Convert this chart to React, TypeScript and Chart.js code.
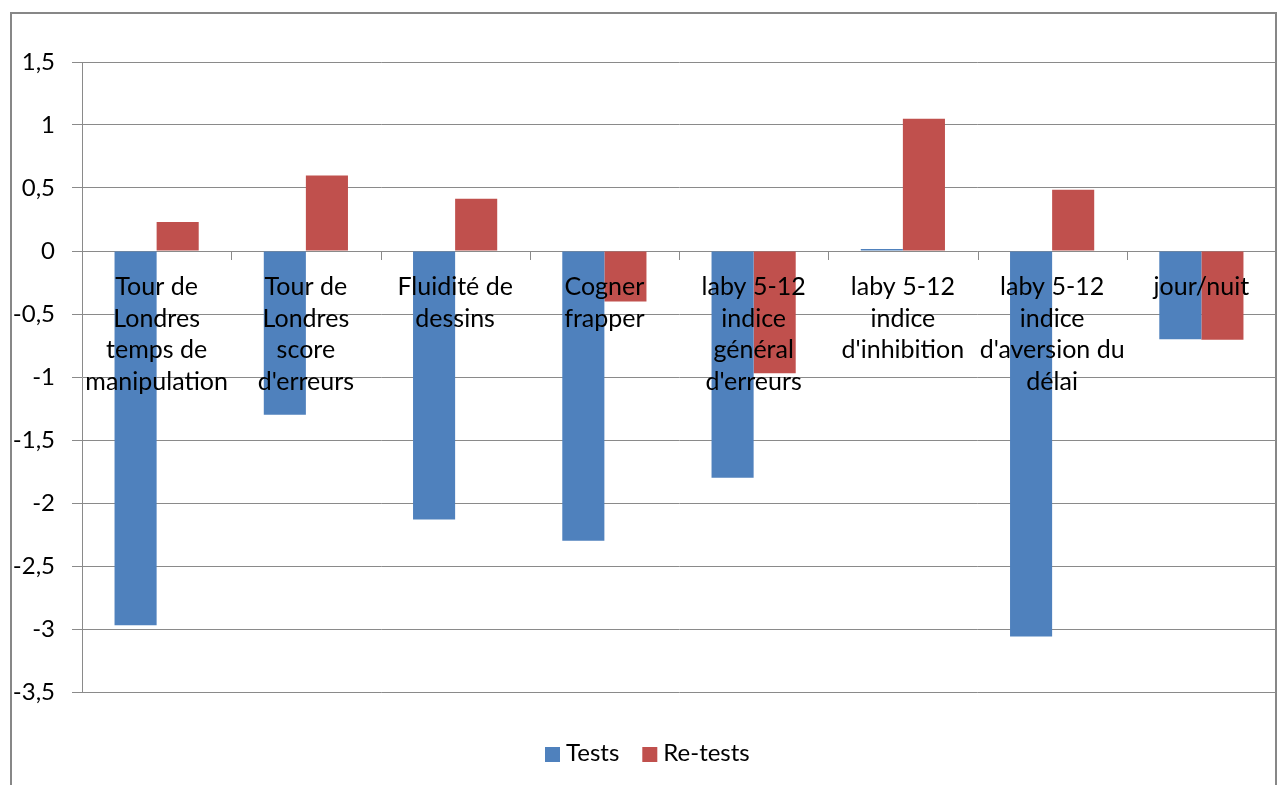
import React, { useEffect, useRef } from "react";
import { Chart, registerables } from "chart.js";

Chart.register(...registerables);

const categories: string[][] = [
  ["Tour de", "Londres", "temps de", "manipulation"],
  ["Tour de", "Londres", "score", "d'erreurs"],
  ["Fluidité de", "dessins"],
  ["Cogner", "frapper"],
  ["laby 5-12", "indice", "général", "d'erreurs"],
  ["laby 5-12", "indice", "d'inhibition"],
  ["laby 5-12", "indice", "d'aversion du", "délai"],
  ["jour/nuit"],
];

const testsValues = [-2.97, -1.3, -2.13, -2.3, -1.8, 0.016, -3.06, -0.7];
const retestsValues = [0.23, 0.6, 0.415, -0.4, -0.97, 1.05, 0.487, -0.705];

const seriesNames = ["Tests", "Re-tests"];
const seriesColors = ["#4F81BD", "#C0504D"];

const yMin = -3.5;
const yMax = 1.5;
const yStep = 0.5;

const FONT = "Lato, 'Open Sans', sans-serif";
const GRID = "#8a8a8a";

const excelPlugin = {
  id: "excelLook",
  beforeDraw(chart: any) {
    const ctx = chart.ctx as CanvasRenderingContext2D;
    ctx.save();
    ctx.fillStyle = "#ffffff";
    ctx.fillRect(0, 0, chart.width, chart.height);
    ctx.strokeStyle = "#878787";
    ctx.lineWidth = 2;
    ctx.strokeRect(11, 13, 1265, 900);
    ctx.restore();
  },
  afterDatasetsDraw(chart: any) {
    const ctx = chart.ctx as CanvasRenderingContext2D;
    const xs = chart.scales.x;
    const ys = chart.scales.y;
    const zero = ys.getPixelForValue(0);
    const labels = chart.data.labels as string[][];
    const n = labels.length;
    ctx.save();
    // category tick marks on the zero axis
    ctx.strokeStyle = GRID;
    ctx.lineWidth = 1;
    for (let i = 1; i < n; i++) {
      const px = Math.round((xs.getPixelForValue(i - 1) + xs.getPixelForValue(i)) / 2) + 0.5;
      ctx.beginPath();
      ctx.moveTo(px, zero);
      ctx.lineTo(px, zero + 9);
      ctx.stroke();
    }
    // category labels next to the axis
    ctx.fillStyle = "#000000";
    ctx.font = `25px ${FONT}`;
    ctx.textAlign = "center";
    ctx.textBaseline = "alphabetic";
    labels.forEach((lines, i) => {
      const cx = xs.getPixelForValue(i);
      lines.forEach((line, j) => {
        ctx.fillText(line, cx, zero + 44 + j * 31.7);
      });
    });
    // legend
    ctx.font = `24px ${FONT}`;
    ctx.textAlign = "left";
    let x0 = 545;
    chart.data.datasets.forEach((ds: any) => {
      ctx.fillStyle = ds.backgroundColor;
      ctx.fillRect(x0, 747, 15, 15);
      ctx.fillStyle = "#000000";
      ctx.fillText(ds.label, x0 + 21, 761);
      x0 += 21 + ctx.measureText(ds.label).width + 23;
    });
    ctx.restore();
  },
};

export default function App() {
  const canvasRef = useRef<HTMLCanvasElement | null>(null);

  useEffect(() => {
    if (!canvasRef.current) return;
    const chart = new Chart(canvasRef.current, {
      type: "bar",
      data: {
        labels: categories,
        datasets: [
          {
            label: seriesNames[0],
            data: testsValues,
            backgroundColor: seriesColors[0],
            categoryPercentage: 0.564,
            barPercentage: 1,
          },
          {
            label: seriesNames[1],
            data: retestsValues,
            backgroundColor: seriesColors[1],
            categoryPercentage: 0.564,
            barPercentage: 1,
          },
        ],
      },
      options: {
        animation: false,
        responsive: false,
        devicePixelRatio: 1,
        layout: { padding: { top: 62, right: 2, bottom: 93, left: 0 } },
        plugins: {
          legend: { display: false },
          tooltip: { enabled: false },
        },
        scales: {
          x: {
            grid: { display: false },
            border: { display: false },
            ticks: { display: false },
            afterFit: (s: any) => {
              s.height = 0;
            },
          },
          y: {
            min: yMin,
            max: yMax,
            ticks: {
              stepSize: yStep,
              padding: 17,
              color: "#000000",
              font: { family: FONT, size: 24 },
              callback: (v: any) => String(v).replace(".", ","),
            },
            grid: { color: GRID, lineWidth: 1, tickLength: 10 },
            border: { color: GRID, width: 1 },
            afterFit: (s: any) => {
              s.width = 82;
            },
          },
        },
      },
      plugins: [excelPlugin],
    });
    return () => chart.destroy();
  }, []);

  return (
    <div style={{ position: "fixed", left: 0, top: 0, width: 1278, height: 785, background: "#fff" }}>
      <canvas ref={canvasRef} width={1278} height={785} style={{ width: 1278, height: 785, display: "block" }} />
    </div>
  );
}
